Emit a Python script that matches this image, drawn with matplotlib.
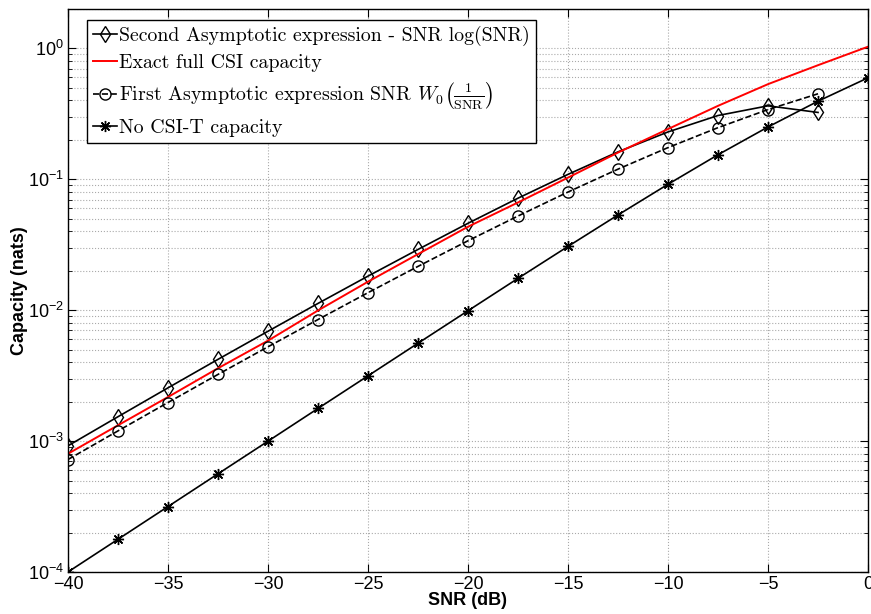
import matplotlib
matplotlib.use('Agg')
from matplotlib import pyplot as plt
from matplotlib.ticker import LogLocator, FixedLocator

plt.rcParams['font.family'] = ['Liberation Sans', 'DejaVu Sans']
plt.rcParams['mathtext.fontset'] = 'custom'
plt.rcParams['mathtext.rm'] = 'Liberation Sans'
plt.rcParams['mathtext.it'] = 'Liberation Sans:italic'
plt.rcParams['mathtext.bf'] = 'Liberation Sans:bold'

# SNR axis (dB)
snr_db = [-40, -37.5, -35, -32.5, -30, -27.5, -25, -22.5, -20,
          -17.5, -15, -12.5, -10, -7.5, -5, -2.5, 0]

# exact full CSI capacity (red curve)
exact_full = [8.0e-4, 1.32e-3, 2.17e-3, 3.6e-3, 5.85e-3, 9.95e-3, 0.0165, 0.0268,
              0.0434, 0.0665, 0.103, 0.160, 0.242, 0.364, 0.533, 0.744, 1.03]

# second asymptotic expression, -40 .. -2.5 dB
second_asym = [9.2e-4, 1.535e-3, 2.55e-3, 4.21e-3, 6.9e-3, 0.01126, 0.0182, 0.0291,
               0.0461, 0.0717, 0.109, 0.162, 0.230, 0.307, 0.364, 0.324]

# first asymptotic expression, -40 .. -2.5 dB
first_asym = [7.23e-4, 1.196e-3, 1.97e-3, 3.23e-3, 5.25e-3, 8.48e-3, 0.0136, 0.0216,
              0.0339, 0.0524, 0.0799, 0.1195, 0.1746, 0.248, 0.341, 0.45]

# no CSI-T capacity
no_csit = [1.0e-4, 1.777e-4, 3.16e-4, 5.62e-4, 9.98e-4, 1.775e-3, 3.15e-3, 5.59e-3,
           9.9e-3, 0.0175, 0.0307, 0.0534, 0.0916, 0.154, 0.251, 0.395, 0.596]

fig = plt.figure(figsize=(8.71, 6.14), dpi=100)
ax = fig.add_axes([0.078, 0.0684, 0.9186, 0.917])

l1, = ax.plot(snr_db[:-1], second_asym, '-', color='k', lw=1.2, marker='d',
              ms=8, mfc='none', mec='k', mew=1.0,
              label='Second Asymptotic expression - SNR log(SNR)')
l2, = ax.plot(snr_db, exact_full, '-', color='red', lw=1.4,
              label='Exact full CSI capacity')
l3, = ax.plot(snr_db[:-1], first_asym, '--', color='k', lw=1.2, marker='o',
              ms=8, mfc='none', mec='k', mew=1.0,
              label=r'First Asymptotic expression SNR $W_0\left(\frac{1}{\mathrm{SNR}}\right)$')
l4, = ax.plot(snr_db, no_csit, '-', color='k', lw=1.2, marker=(8, 2, 0),
              ms=8, mec='k', mew=1.0, label='No CSI-T capacity')

ax.set_yscale('log')
ax.set_xlim(-40, 0)
ax.set_ylim(1e-4, 2)
ax.set_xticks([-40, -35, -30, -25, -20, -15, -10, -5, 0])
ax.set_xticklabels(['\u221240', '\u221235', '\u221230', '\u221225', '\u221220',
                    '\u221215', '\u221210', '\u22125', '0'])
ax.yaxis.set_major_locator(FixedLocator([1e-4, 1e-3, 1e-2, 1e-1, 1]))
ax.yaxis.set_minor_locator(LogLocator(base=10, subs=range(2, 10), numticks=20))
ax.set_yticklabels([r'$10^{-4}$', r'$10^{-3}$', r'$10^{-2}$', r'$10^{-1}$', r'$10^{0}$'])

ax.tick_params(which='both', direction='in', top=True, right=True, labelsize=13)
ax.tick_params(which='major', length=6, width=0.8)
ax.tick_params(which='minor', length=3, width=0.6)
ax.tick_params(axis='x', pad=3)
ax.tick_params(axis='y', pad=3)

ax.grid(True, which='major', axis='x', linestyle=':', color='#aaaaaa', lw=0.8)
ax.grid(True, which='both', axis='y', linestyle=':', color='#aaaaaa', lw=0.8)
for s in ax.spines.values():
    s.set_linewidth(1.0)

ax.set_xlabel('SNR (dB)', fontsize=13, fontweight='bold', labelpad=-1)
ax.set_ylabel('Capacity (nats)', fontsize=13, fontweight='bold', labelpad=0)

leg = ax.legend(handles=[l1, l2, l3, l4], loc='upper left',
                bbox_to_anchor=(0.024, 0.98), fancybox=False, framealpha=1,
                edgecolor='k', handlelength=1.2, handletextpad=0.12,
                borderpad=0.3, labelspacing=0.4, borderaxespad=0,
                prop={'family': 'cmr10', 'size': 14.3})
leg.get_frame().set_linewidth(1.0)
for t in leg.get_texts():
    t.set_math_fontfamily('cm')

fig.savefig('out.png', dpi=100)
